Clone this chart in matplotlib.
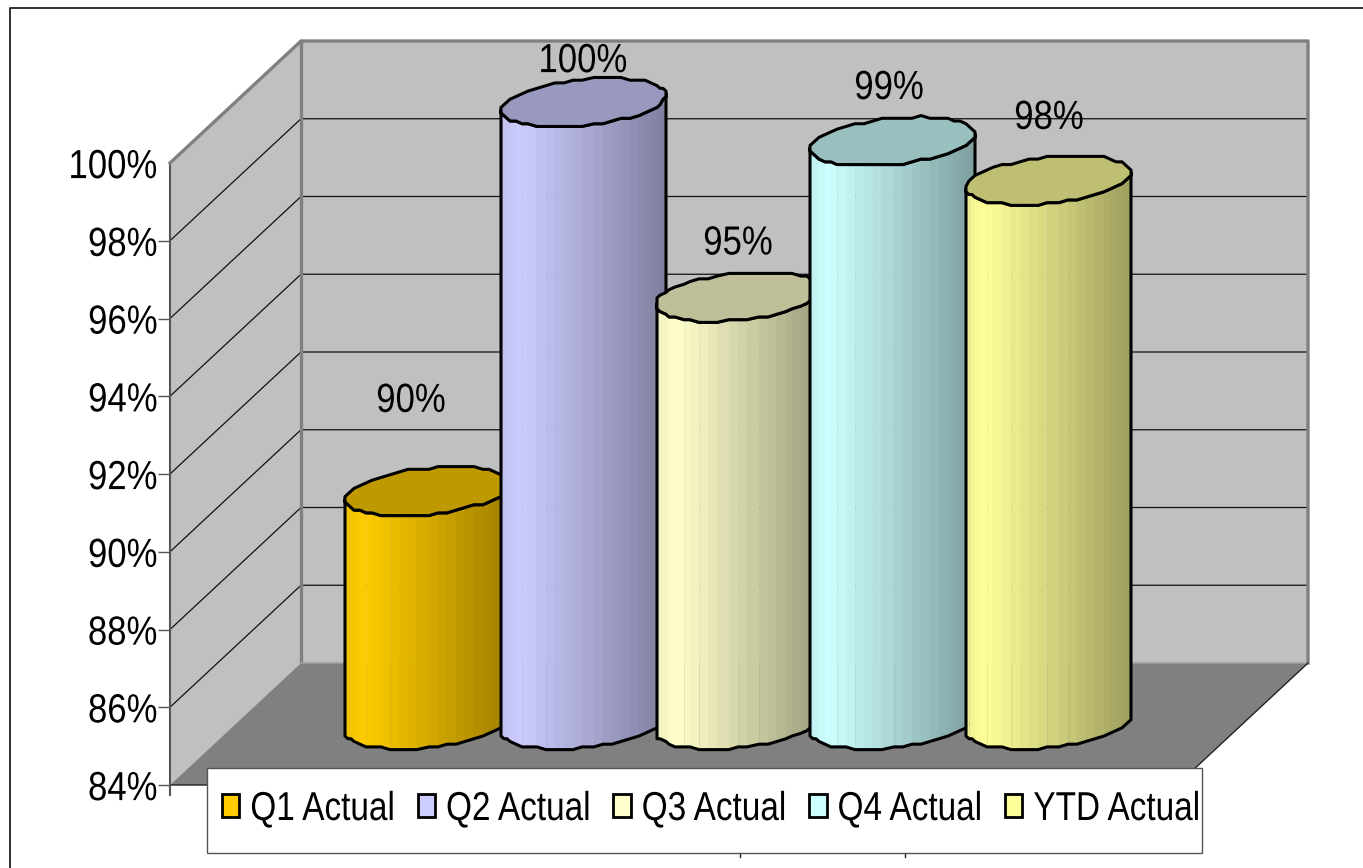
import numpy as np
import matplotlib
matplotlib.use("Agg")
import matplotlib.pyplot as plt
from matplotlib.patches import Polygon, Rectangle
from matplotlib.patheffects import AbstractPathEffect
from matplotlib.transforms import Affine2D

plt.rcParams['font.family'] = ['Liberation Sans', 'DejaVu Sans']

series = ['Q1 Actual', 'Q2 Actual', 'Q3 Actual', 'Q4 Actual', 'YTD Actual']
values = [90, 100, 95, 99, 98]
colors = ['#FFCC00', '#CCCCFF', '#FFFFCC', '#CCFFFF', '#FFFF99']
axis_ticks = [84, 86, 88, 90, 92, 94, 96, 98, 100]

W, H = 1363, 868
FRONT_BOTTOM, FRONT_TOP = 785, 163
PCT_PX = (FRONT_BOTTOM - FRONT_TOP) / (axis_ticks[-1] - axis_ticks[0])

# oblique depth of the box, in pixels across and percent up
DEPTH_X = 131
DEPTH_V = 122 / PCT_PX
LEFT, RIGHT = 170, 1177

BAR_STEP = 155
BAR_CENTER = 738
BAR_A, BAR_SHEAR, BAR_B = 78, 26, 24.5 / PCT_PX
BAR_DEPTH_V = 60.5 / PCT_PX
N_FACETS = 26

# where each value label sits relative to its bar top
label_dx = [-17, 0, 0, -4, 1]
label_up_px = [91, 42, 54, 54, 63]


class TallText(AbstractPathEffect):
    """Stretch glyphs vertically about their mid cap height."""

    def __init__(self, sy):
        super().__init__()
        self.sy = sy

    def draw_path(self, renderer, gc, tpath, affine, rgbFace=None):
        m = affine.get_matrix()
        mid = m[1, 2] + 35.8 * m[1, 1]
        stretch = Affine2D().translate(0, -mid).scale(1, self.sy).translate(0, mid)
        renderer.draw_path(gc, tpath, affine + stretch, rgbFace)


def shade(color, k):
    return tuple(c * k for c in matplotlib.colors.to_rgb(color))


def ring(cx, cv, t):
    # oblique circle: jagged edge comes from snapping to a coarse grid
    x = cx + BAR_A * np.cos(t) + BAR_SHEAR * np.sin(t)
    v = cv + BAR_B * np.sin(t)
    return np.round(x / 3) * 3, np.round(v / 0.07) * 0.07


def draw_cylinder(ax, cx, base_v, top_v, color, z):
    # front half runs from the leftmost to the rightmost silhouette point
    t0 = np.arctan2(BAR_SHEAR, BAR_A)
    t = np.linspace(np.pi + t0, 2 * np.pi + t0, N_FACETS + 1)
    xb, vb = ring(cx, base_v, t)
    xt, vt = ring(cx, top_v, t)
    for i in range(N_FACETS):
        frac = ((xb[i] + xb[i + 1]) / 2 - xb[0]) / (xb[-1] - xb[0])
        k = 0.94 + frac / 0.12 * 0.06 if frac < 0.12 else 1 - (frac - 0.12) / 0.88 * 0.38
        quad = [(xb[i], vb[i]), (xb[i + 1], vb[i + 1]), (xt[i + 1], vt[i + 1]), (xt[i], vt[i])]
        ax.add_patch(Polygon(quad, facecolor=shade(color, k), edgecolor=shade(color, k),
                             linewidth=0.4, clip_on=False, zorder=z))
    outline = list(zip(xb, vb)) + list(zip(xt[::-1], vt[::-1]))
    ax.add_patch(Polygon(outline, closed=True, fill=False, edgecolor='black', linewidth=2.2,
                         joinstyle='round', clip_on=False, zorder=z + 0.1))
    t_all = t0 + np.linspace(0, 2 * np.pi, 2 * N_FACETS + 1)
    xe, ve = ring(cx, top_v, t_all)
    ax.add_patch(Polygon(list(zip(xe, ve)), closed=True, facecolor=shade(color, 0.75),
                         edgecolor='black', linewidth=2.2, joinstyle='round', clip_on=False, zorder=z + 0.2))


fig = plt.figure(figsize=(W / 100, H / 100), dpi=100, facecolor='white')
ax = fig.add_axes([0, 1 - FRONT_BOTTOM / H, 1, (FRONT_BOTTOM - FRONT_TOP) / H])
ax.set_xlim(0, W)
ax.set_ylim(axis_ticks[0], axis_ticks[-1])
ax.patch.set_visible(False)
for side in ['top', 'right', 'bottom']:
    ax.spines[side].set_visible(False)
ax.spines['left'].set_position(('data', LEFT))
ax.spines['left'].set_color('#555555')
ax.spines['left'].set_linewidth(1.5)
ax.set_xticks([])
ax.set_yticks(axis_ticks)
ax.set_yticklabels([f'{v}%' for v in axis_ticks], fontsize=25)
for lab in ax.get_yticklabels():
    lab.set_path_effects([TallText(1.17)])
ax.tick_params(axis='y', length=8.5, width=1, color='#555555', pad=0.5)
ax.get_yticklines()[-2].set_visible(False)

vmin, vmax = axis_ticks[0], axis_ticks[-1]
back_l, back_r = LEFT + DEPTH_X, RIGHT + DEPTH_X

# side wall, back wall and floor
ax.add_patch(Polygon([(LEFT, vmin), (back_l, vmin + DEPTH_V), (back_l, vmax + DEPTH_V), (LEFT, vmax)],
                     facecolor='#C0C0C0', edgecolor='none', clip_on=False, zorder=1))
ax.add_patch(Polygon([(back_l, vmin + DEPTH_V), (back_r, vmin + DEPTH_V), (back_r, vmax + DEPTH_V), (back_l, vmax + DEPTH_V)],
                     facecolor='#C0C0C0', edgecolor='none', clip_on=False, zorder=1))
ax.add_patch(Polygon([(LEFT, vmin), (RIGHT, vmin), (back_r, vmin + DEPTH_V), (back_l, vmin + DEPTH_V)],
                     facecolor='#808080', edgecolor='none', clip_on=False, zorder=1))

for v in axis_ticks[1:-1]:
    ax.plot([LEFT, back_l, back_r], [v, v + DEPTH_V, v + DEPTH_V], color='#111111', lw=0.9,
            clip_on=False, zorder=2)

edge = dict(color='#808080', lw=2.4, clip_on=False, zorder=3, solid_capstyle='projecting')
ax.plot([LEFT, back_l, back_r, back_r], [vmax, vmax + DEPTH_V, vmax + DEPTH_V, vmin + DEPTH_V], **edge)
ax.plot([back_l, back_l], [vmin + DEPTH_V, vmax + DEPTH_V], **edge)
ax.plot([back_l, back_r], [vmin + DEPTH_V] * 2, color='#A0A0A0', lw=1.2, clip_on=False, zorder=3)
ax.plot([LEFT, RIGHT, back_r], [vmin, vmin, vmin + DEPTH_V], color='#222222', lw=1, clip_on=False, zorder=3)
ax.plot([LEFT, LEFT], [vmin, vmin - 10 / PCT_PX], color='#555555', lw=1.5, clip_on=False, zorder=3)

# cylinders, later ones overlap the earlier ones
base_v = vmin + BAR_DEPTH_V
for i, (val, col) in enumerate(zip(values, colors)):
    cx = BAR_CENTER + (i - 2) * BAR_STEP
    top_v = val + BAR_DEPTH_V
    draw_cylinder(ax, cx, base_v, top_v, col, 5 + i)
    ax.text(cx + label_dx[i], top_v + label_up_px[i] / PCT_PX, f'{val}%', fontsize=25,
            ha='center', va='center', color='black', clip_on=False, zorder=20,
            path_effects=[TallText(1.17)])

# legend box sits apart from the entries so its padding can be uneven
fig.add_artist(Rectangle((207 / W, 1 - 853 / H), 995 / W, 85 / H, facecolor='white', edgecolor='#555555',
                         linewidth=1, transform=fig.transFigure, zorder=29))
handles = [Rectangle((0, 0), 1, 1, facecolor=c, edgecolor='black', linewidth=2) for c in colors]
leg = fig.legend(handles, series, ncol=5, loc='center left', mode='expand',
                 bbox_to_anchor=(222 / W, 1 - 827 / H, 978 / W, 36 / H), bbox_transform=fig.transFigure,
                 fontsize=24, frameon=False, borderaxespad=0, borderpad=0, handlelength=0.52,
                 handleheight=0.68, handletextpad=0.33, columnspacing=0.6, labelspacing=0)
leg.set_zorder(30)
for txt in leg.get_texts():
    txt.set_path_effects([TallText(1.21)])

# outer chart frame, open at the bottom and right of the image
fig.add_artist(plt.Line2D([10 / W, 10 / W, 1], [0, 1 - 8 / H, 1 - 8 / H],
                          color='#222222', lw=1.3, transform=fig.transFigure))
# axis ends poking out below the legend box
for x in [740, 905]:
    fig.add_artist(plt.Line2D([x / W, x / W], [1 - 853 / H, 1 - 857 / H], color='#222222', lw=1,
                              transform=fig.transFigure))

fig.savefig('out.png', dpi=100)
